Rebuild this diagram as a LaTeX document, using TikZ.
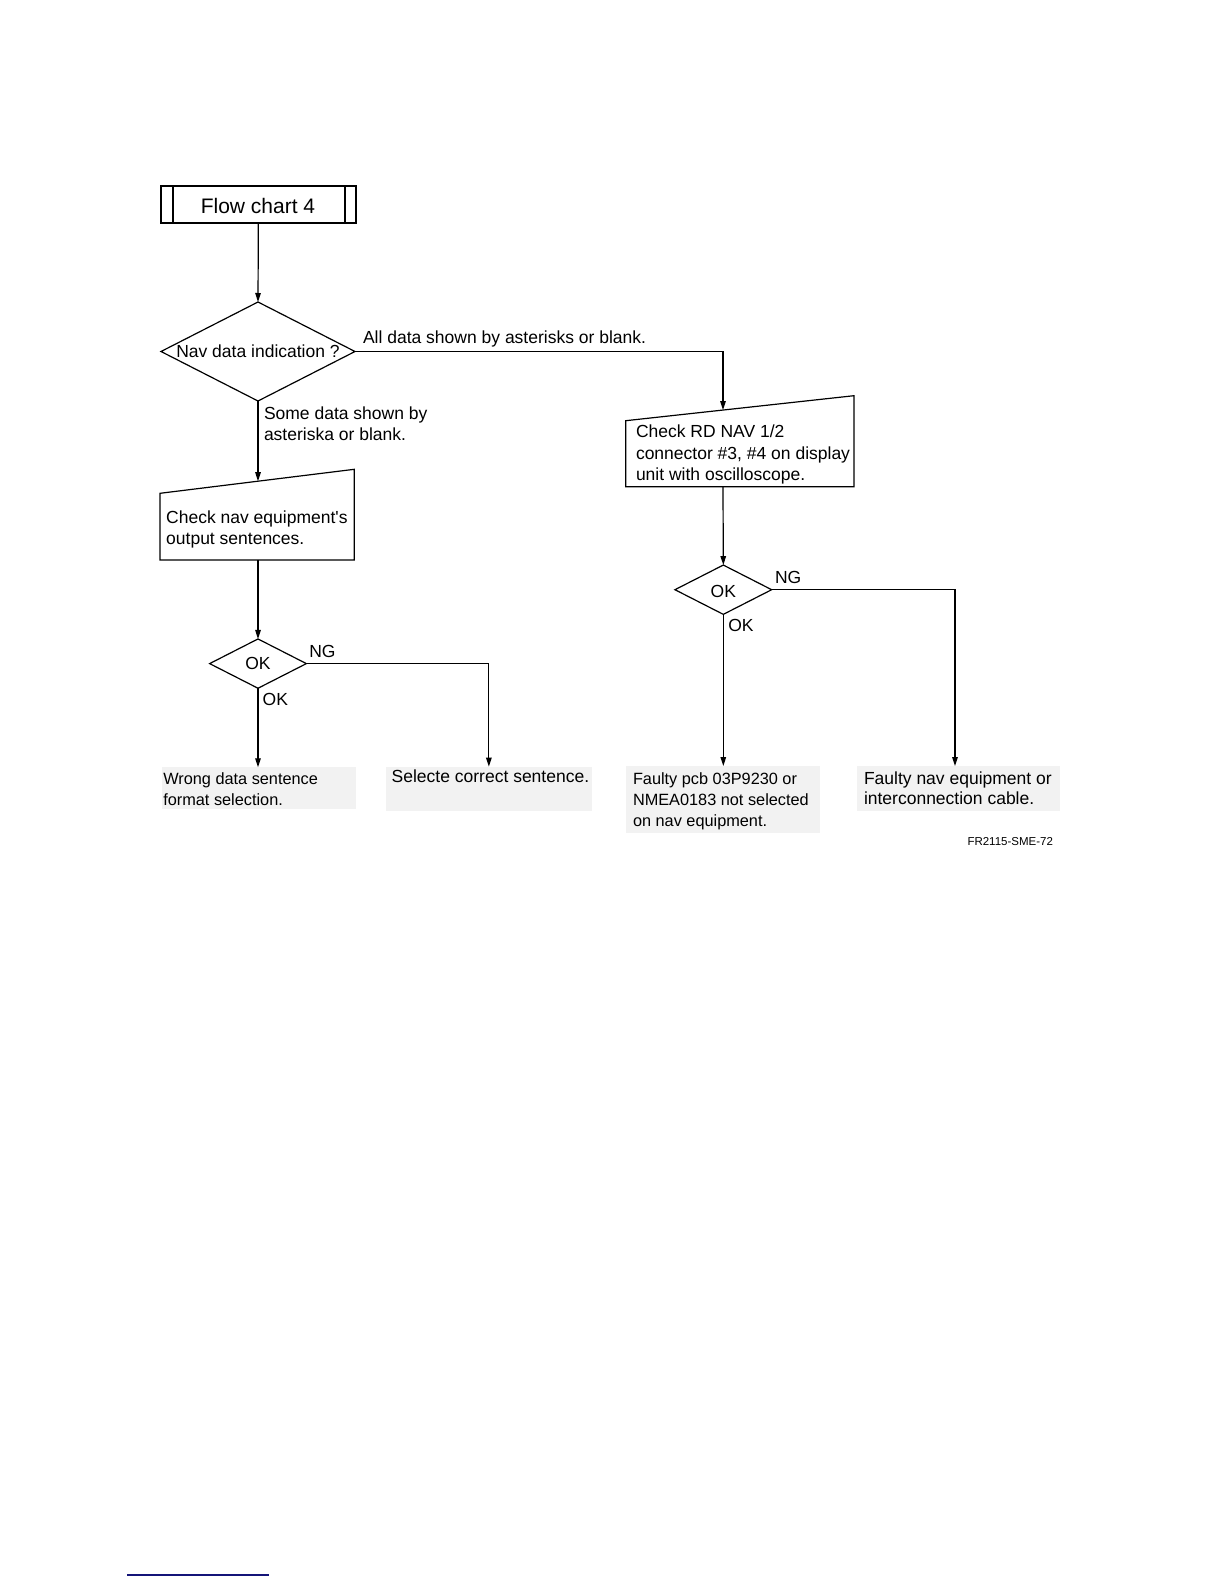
\documentclass[tikz,border=0pt]{standalone}
\usepackage{fontspec}
\setmainfont{Liberation Sans}[Ligatures=TeXOff]
\usetikzlibrary{shapes.geometric,arrows.meta}
\begin{document}
\begin{tikzpicture}[x=1pt,y=-1pt,
  ln/.style={line width=1.2pt},
  arr/.style={ln,-{Triangle[length=9pt,width=5.5pt]}},
  dia/.style={diamond,draw,ln,inner sep=0pt,outer sep=0pt},
  txt/.style={inner sep=0pt,outer sep=0pt,font=\fontsize{17.5}{21.5}\selectfont},
  txtsm/.style={inner sep=0pt,outer sep=0pt,font=\fontsize{16.3}{21}\selectfont},
  res/.style={fill=black!5,draw=none,inner sep=0pt,outer sep=0pt,anchor=north west},
]
\useasboundingbox (0,0) rectangle (1224,1584);

% title box
\node[draw,line width=2pt,minimum width=194.7pt,minimum height=37.3pt,inner sep=0pt,outer sep=0pt] (fc) at (258.35,204.65) {};
\node[inner sep=0pt,outer sep=0pt,anchor=base,font=\fontsize{21}{24}\selectfont] (fct) at (258,213.3) {Flow chart 4};
\draw[line width=1.6pt] ([xshift=11.7pt]fc.north west) -- ([xshift=11.7pt]fc.south west);
\draw[line width=1.6pt] ([xshift=-10.7pt]fc.north east) -- ([xshift=-10.7pt]fc.south east);

% decision 1
\node[dia,minimum width=194pt,minimum height=99pt] (d1) at (258,351.5) {};
\node[txt] (d1t) at (d1.center) {Nav data indication ?};

% right manual-input box
\coordinate (r1) at (625.7,420.7);
\coordinate (r2) at (854,395.7);
\coordinate (r3) at (854,486.7);
\coordinate (r4) at (625.7,486.7);
\draw[ln] (r1) -- (r2) -- (r3) -- (r4) -- cycle;
\coordinate (rtop) at (723,410);
\coordinate (rbot) at (723,486.7);
\node[txt,anchor=base west] (rt) at (636,437.5)
  {\vtop{\hbox{Check RD NAV 1/2}\hbox{connector \#3, \#4 on display}\hbox{unit with oscilloscope.}}};

% left manual-input box
\coordinate (l1) at (160,493.3);
\coordinate (l2) at (354.3,469.3);
\coordinate (l3) at (354.3,560);
\coordinate (l4) at (160,560);
\draw[ln] (l1) -- (l2) -- (l3) -- (l4) -- cycle;
\coordinate (ltop) at (258,481.2);
\coordinate (lbot) at (258,560);
\node[txt,anchor=base west] (lt) at (166.2,523.3)
  {\vtop{\hbox{Check nav equipment's}\hbox{output sentences.}}};

% decisions 2 and 3
\node[dia,minimum width=96.7pt,minimum height=49.3pt] (d2) at (258,663.6) {};
\node[txt] (d2t) at (d2.center) {OK};
\node[dia,minimum width=96.7pt,minimum height=49.3pt] (d3) at (723.3,589.7) {};
\node[txt] (d3t) at ([yshift=-1.5pt]d3.center) {OK};

% result boxes
\node[res,minimum width=194.3pt,minimum height=42pt] (g1) at (161.7,767.3) {};
\node[res,minimum width=205.7pt,minimum height=44.3pt] (g2) at (386,766.7) {};
\node[res,minimum width=194pt,minimum height=66.7pt] (g3) at (626,766) {};
\node[res,minimum width=203.3pt,minimum height=44.7pt] (g4) at (856.7,766) {};
\coordinate (g4n) at (955,766);

\node[txtsm,anchor=base west] (g1t) at (163.3,784)
  {\vtop{\hbox{Wrong data sentence}\hbox{format selection.}}};
\node[txt,anchor=base west] (g2t) at (391.7,782.7) {Selecte correct sentence.};
\node[txtsm,anchor=base west] (g3t) at (633,784)
  {\vtop{\hbox{Faulty pcb 03P9230 or}\hbox{NMEA0183 not selected}\hbox{on nav equipment.}}};
\node[txt,anchor=base west] (g4t) at (864,784)
  {\vtop{\baselineskip=20.5pt\hbox{Faulty nav equipment or}\hbox{interconnection cable.}}};

% labels
\node[txt,anchor=base west] (lab1) at (363,343.3) {All data shown by asterisks or blank.};
\node[txt,anchor=base west] (lab2) at (264,419)
  {\vtop{\hbox{Some data shown by}\hbox{asteriska or blank.}}};
\node[txt,anchor=base west] (ng2) at (309.3,657.5) {NG};
\node[txt,anchor=base west] (ok2) at (262.7,705) {OK};
\node[txt,anchor=base west] (ng3) at (775,583.3) {NG};
\node[txt,anchor=base west] (ok3) at (728.3,631) {OK};

\node[inner sep=0pt,outer sep=0pt,anchor=base west,font=\fontsize{11.5}{13}\selectfont] (fr) at (967.5,845.5) {FR2115-SME-72};

% connectors
\draw[arr] (fc.south) -- (d1.north);
\draw[arr] (d1.east) -| (rtop);
\draw[arr] (d1.south) -- (ltop);
\draw[arr] (lbot) -- (d2.north);
\draw[arr] (rbot) -- (d3.north);
\draw[arr] (d2.south) -- (d2.south |- g1.north);
\draw[arr] (d2.east) -| (g2.north);
\draw[arr] (d3.south) -- (d3.south |- g3.north);
\draw[arr] (d3.east) -| (g4n);

% link underline at the foot of the page
\coordinate (u1) at (127.3,1575);
\coordinate (u2) at (269,1575);
\draw[color={rgb,255:red,20;green,20;blue,120},line width=1.2pt] (u1) -- (u2);
\end{tikzpicture}
\end{document}
